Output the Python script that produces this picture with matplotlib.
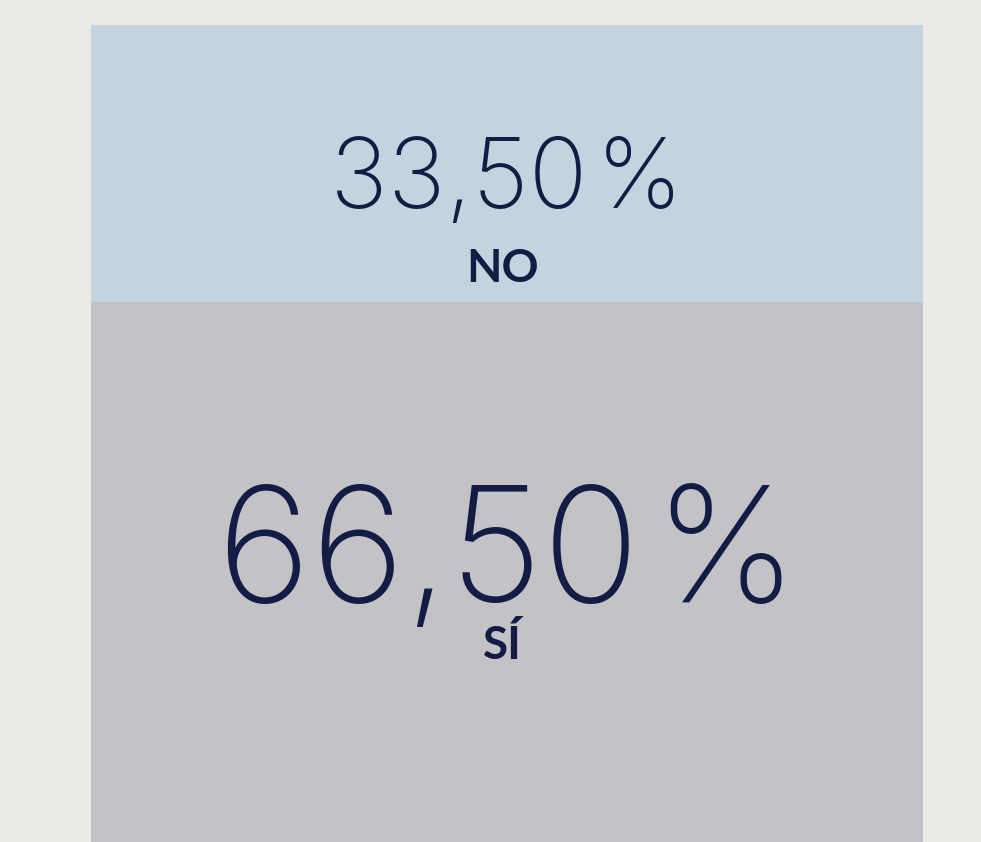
import matplotlib.pyplot as plt

# Data
categories = ['SÍ', 'NO']
values = [66.50, 33.50]
colors = ['#c3c2c7', '#c3d4de']
number_sizes = [116, 70]

bg = '#eceae6'
text_color = '#121c45'

fig = plt.figure(figsize=(9.81, 8.42), dpi=100, facecolor=bg)
ax = fig.add_axes([91 / 981, 0, 832 / 981, 817 / 842])
ax.set_facecolor(bg)

bottom = 0
for cat, val, col, fs in zip(categories, values, colors, number_sizes):
    ax.bar(0, val, width=1, bottom=bottom, color=col, linewidth=0)
    top = bottom + val
    num = f'{val:.2f}'.replace('.', ',') + '\u200a%'
    # number and label sit in the upper part of each block
    num_y = top - val * (0.546 if cat == 'SÍ' else 0.66)
    lab_y = top - val * (0.649 if cat == 'SÍ' else 0.928)
    ax.text(0.0, num_y, num, ha='center', va='baseline', color=text_color,
            fontsize=fs, family=['Inter', 'DejaVu Sans'], fontweight='light')
    ax.text(-0.005, lab_y, cat, ha='center', va='baseline', color=text_color,
            fontsize=33, family='Lato', fontweight='bold')
    bottom = top

ax.set_xlim(-0.5, 0.5)
ax.set_ylim(1.2, 100)
ax.axis('off')

plt.savefig('out.png', dpi=100, facecolor=bg)
